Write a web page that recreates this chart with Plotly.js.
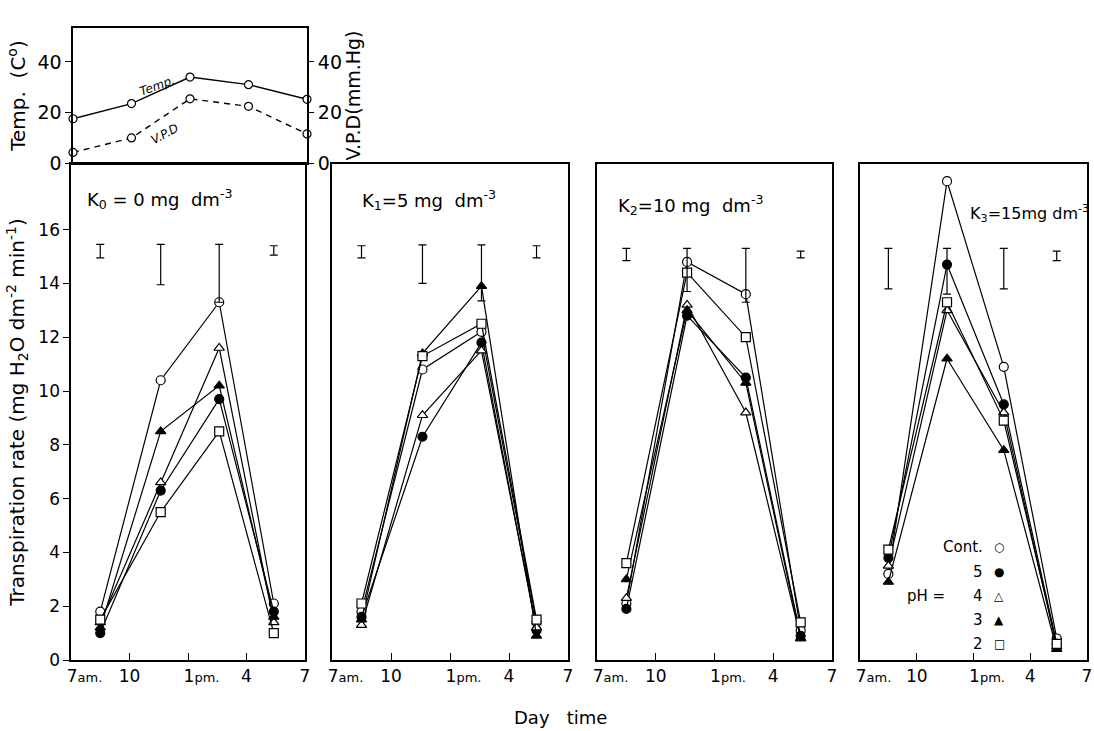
<!DOCTYPE html>
<html><head><meta charset="utf-8">
<script src="https://cdn.plot.ly/plotly-3.0.1.min.js"></script>
<style>body{margin:0;background:#fff}#c{width:1094px;height:731px}</style>
</head><body><div id="c"></div>
<script>
// ---- data ----
const hours = [8.5, 11.6, 14.6, 17.4];
const climateHours = [7, 10, 13, 16, 19];
const temperature = [17.5, 23.5, 34.0, 31.0, 25.2];
const vpd = [4.2, 9.9, 25.4, 22.4, 11.5];
const treatments = ['Cont.', '5', '4', '3', '2'];
const panelLabels = ['K<sub>0</sub> = 0 mg  dm<sup>-3</sup>', 'K<sub>1</sub>=5 mg  dm<sup>-3</sup>',
                     'K<sub>2</sub>=10 mg  dm<sup>-3</sup>', 'K<sub>3</sub>=15mg dm<sup>-3</sup>'];
// rows: Cont., pH5, pH4, pH3, pH2
const k0Rates = [[1.8, 10.4, 13.3, 2.1], [1.0, 6.3, 9.7, 1.8], [1.4, 6.6, 11.6, 1.4], [1.2, 8.5, 10.2, 1.6], [1.5, 5.5, 8.5, 1.0]];
const k1Rates = [[1.8, 10.8, 12.2, 1.4], [1.6, 8.3, 11.8, 1.1], [1.3, 9.1, 11.5, 1.2], [1.5, 11.4, 13.9, 0.9], [2.1, 11.3, 12.5, 1.5]];
const k2Rates = [[2.1, 14.8, 13.6, 1.1], [1.9, 12.8, 10.5, 0.9], [2.3, 13.2, 9.2, 0.8], [3.0, 13.0, 10.3, 0.8], [3.6, 14.4, 12.0, 1.4]];
const k3Rates = [[3.2, 17.8, 10.9, 0.8], [3.8, 14.7, 9.5, 0.6], [3.5, 13.0, 9.2, 0.5], [2.9, 11.2, 7.8, 0.4], [4.1, 13.3, 8.9, 0.6]];
const k0ErrLow = [14.95, 13.95, 13.3, 15.05], k0ErrHigh = [15.45, 15.45, 15.45, 15.4];
const k1ErrLow = [14.95, 14.0, 13.35, 14.95], k1ErrHigh = [15.4, 15.43, 15.43, 15.4];
const k2ErrLow = [14.85, 13.7, 13.3, 14.95], k2ErrHigh = [15.3, 15.3, 15.3, 15.2];
const k3ErrLow = [13.8, 13.6, 13.8, 14.85], k3ErrHigh = [15.3, 15.3, 15.3, 15.2];
const xTickVals = [7, 10, 13, 16, 19];
const pad = '\u00a0\u00a0\u00a0\u00a0\u00a0';
const xTickText = [pad + "7<span style='font-size:13px'>am.</span>", '10',
                   pad + "1<span style='font-size:13px'>pm.</span>", '4', '7'];
const yTickVals = [0, 2, 4, 6, 8, 10, 12, 14, 16];
const climateTickVals = [0, 20, 40];
const legendSymbols = ['\u25CB', '\u25CF', '\u25B3', '\u25B2', '\u25A1'];

// ---- style ----
const W = 1094, H = 731;
const fx = p => p / W, fy = p => 1 - p / H;
const FONT = 'DejaVu Sans';
const markerStyles = [
  {symbol: 'circle', color: '#fff'},
  {symbol: 'circle', color: '#000'},
  {symbol: 'triangle-up', color: '#fff'},
  {symbol: 'triangle-up', color: '#000'},
  {symbol: 'square', color: '#fff'}
];
const panels = [
  {rates: k0Rates, lo: k0ErrLow, hi: k0ErrHigh, ax: '2', dom: [71, 305]},
  {rates: k1Rates, lo: k1ErrLow, hi: k1ErrHigh, ax: '3', dom: [332, 568]},
  {rates: k2Rates, lo: k2ErrLow, hi: k2ErrHigh, ax: '4', dom: [597, 832]},
  {rates: k3Rates, lo: k3ErrLow, hi: k3ErrHigh, ax: '5', dom: [860, 1087]}
];

const traces = [];
traces.push({x: climateHours, y: temperature, xaxis: 'x', yaxis: 'y', mode: 'lines+markers',
  line: {color: '#000', width: 1.4}, cliponaxis: false,
  marker: {symbol: 'circle', size: 8, color: '#fff', line: {color: '#000', width: 1.2}}});
traces.push({x: climateHours, y: vpd, xaxis: 'x', yaxis: 'y6', mode: 'lines+markers',
  line: {color: '#000', width: 1.4, dash: '6px,5px'}, cliponaxis: false,
  marker: {symbol: 'circle', size: 8, color: '#fff', line: {color: '#000', width: 1.2}}});

panels.forEach(p => {
  p.rates.forEach((r, i) => {
    traces.push({x: hours, y: r, xaxis: 'x' + p.ax, yaxis: 'y' + p.ax, mode: 'lines+markers',
      name: treatments[i], cliponaxis: false,
      line: {color: '#000', width: 1.2},
      marker: {symbol: markerStyles[i].symbol, size: 9, color: markerStyles[i].color,
               line: {color: '#000', width: 1.2}}});
  });
  traces.push({x: hours, y: p.lo.map((l, i) => (l + p.hi[i]) / 2), xaxis: 'x' + p.ax, yaxis: 'y' + p.ax,
    mode: 'markers', marker: {size: 1, opacity: 0},
    error_y: {type: 'data', array: p.lo.map((l, i) => (p.hi[i] - l) / 2), color: '#000', thickness: 1.2, width: 4}});
});

const baseAxis = {showline: true, mirror: true, linecolor: '#000', linewidth: 1.6, showgrid: false,
  zeroline: false, tickfont: {family: FONT, size: 17, color: '#000'}, tickcolor: '#000'};

const layout = {
  width: W, height: H, margin: {l: 0, r: 0, t: 0, b: 0}, showlegend: false,
  paper_bgcolor: '#fff', plot_bgcolor: '#fff', font: {family: FONT, color: '#000'},
  xaxis: Object.assign({}, baseAxis, {domain: [fx(73), fx(307)], range: [7, 19], anchor: 'y',
    tickvals: xTickVals, showticklabels: false, ticks: ''}),
  yaxis: Object.assign({}, baseAxis, {domain: [fy(163), fy(28)], range: [0, 53.4], anchor: 'x',
    tickvals: climateTickVals, ticks: 'outside', ticklen: 6, tickfont: {family: FONT, size: 19, color: '#000'},
    title: {text: 'Temp.  (C<sup>o</sup>)', font: {family: FONT, size: 20}, standoff: 6}}),
  yaxis6: Object.assign({}, baseAxis, {overlaying: 'y', side: 'right', range: [0, 53.4], anchor: 'x',
    tickvals: climateTickVals, ticks: 'outside', ticklen: 6, showline: false,
    tickfont: {family: FONT, size: 19, color: '#000'},
    title: {text: 'V.P.D(mm.Hg)', font: {family: FONT, size: 19}, standoff: 4}}),
  annotations: [], shapes: []
};

panels.forEach((p, k) => {
  layout['xaxis' + p.ax] = Object.assign({}, baseAxis, {domain: [fx(p.dom[0]), fx(p.dom[1])], range: [7, 19],
    anchor: 'y' + p.ax, tickvals: xTickVals, ticktext: xTickText, ticks: 'inside', ticklen: 7,
    ticklabeloverflow: 'allow'});
  const ya = Object.assign({}, baseAxis, {domain: [fy(660), fy(164)], range: [0, 18.44], anchor: 'x' + p.ax,
    tickvals: yTickVals});
  if (k === 0) {
    Object.assign(ya, {ticks: 'outside', ticklen: 6,
      title: {text: 'Transpiration rate (mg H<sub>2</sub>O dm<sup>-2</sup> min<sup>-1</sup>)', font: {family: FONT, size: 20}, standoff: 8}});
  } else {
    Object.assign(ya, {ticks: '', showticklabels: false});
  }
  layout['yaxis' + p.ax] = ya;
});

const labelPos = [[85, 199], [360, 200], [616, 205], [968, 213]];
const labelSize = [18, 18, 18, 16];
panelLabels.forEach((t, k) => {
  layout.annotations.push({text: t, xref: 'paper', yref: 'paper', x: fx(labelPos[k][0]), y: fy(labelPos[k][1]),
    xanchor: 'left', yanchor: 'middle', showarrow: false, font: {family: FONT, size: labelSize[k], color: '#000'}});
});

// curve labels in climate panel
layout.annotations.push({text: '<i>Temp.</i>', xref: 'x', yref: 'y', x: 11.3, y: 30.5, textangle: -20,
  showarrow: false, font: {family: FONT, size: 12, color: '#000'}});
layout.annotations.push({text: '<i>V.P.D</i>', xref: 'x', yref: 'y', x: 11.7, y: 11.5, textangle: -28,
  showarrow: false, font: {family: FONT, size: 12, color: '#000'}});

// key in K3 panel
const keyY = [547, 572, 596, 620, 644];
treatments.forEach((t, i) => {
  layout.annotations.push({text: t, xref: 'paper', yref: 'paper', x: fx(985), y: fy(keyY[i]),
    xanchor: 'right', yanchor: 'middle', showarrow: false, font: {family: FONT, size: 15, color: '#000'}});
  layout.annotations.push({text: legendSymbols[i], xref: 'paper', yref: 'paper', x: fx(999), y: fy(keyY[i]),
    xanchor: 'center', yanchor: 'middle', showarrow: false, font: {family: FONT, size: 12, color: '#000'}});
});
layout.annotations.push({text: 'pH =', xref: 'paper', yref: 'paper', x: fx(947), y: fy(596),
  xanchor: 'right', yanchor: 'middle', showarrow: false, font: {family: FONT, size: 15, color: '#000'}});

layout.annotations.push({text: 'Day   time', xref: 'paper', yref: 'paper', x: fx(560), y: fy(717),
  xanchor: 'center', yanchor: 'middle', showarrow: false, font: {family: FONT, size: 18, color: '#000'}});

Plotly.newPlot('c', traces, layout, {staticPlot: true});
</script></body></html>
